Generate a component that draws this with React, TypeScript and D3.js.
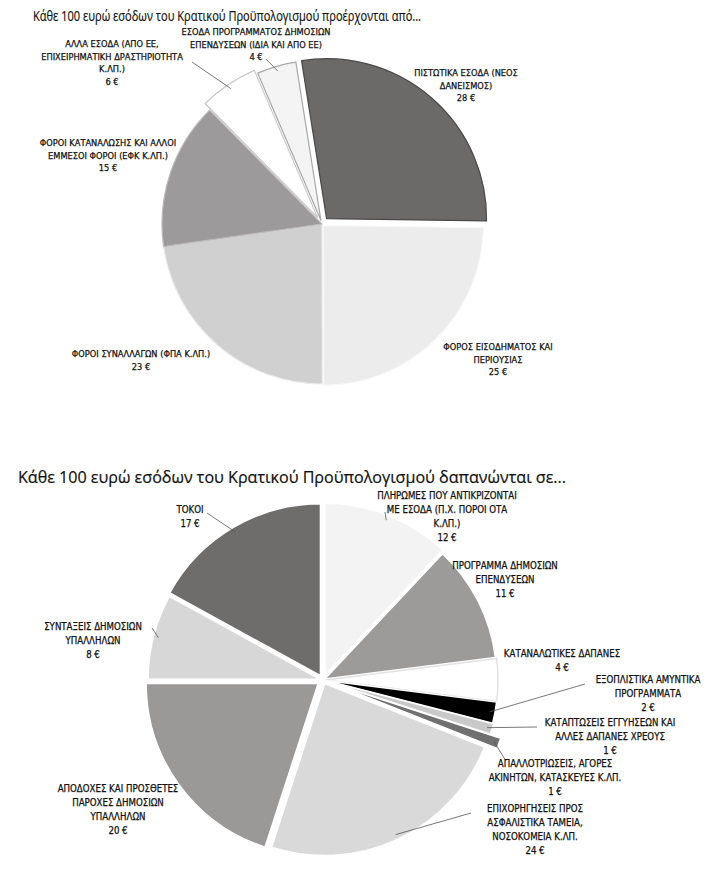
import { useEffect } from 'react';
import * as d3 from 'd3';

const W = 719;
const H = 883;

// Πάνω πίτα: έσοδα
const INCOME_TITLE = 'Κάθε 100 ευρώ εσόδων του Κρατικού Προϋπολογισμού προέρχονται από...';
const INCOME_NAMES = [
  ['ΠΙΣΤΩΤΙΚΑ ΕΣΟΔΑ (ΝΕΟΣ', 'ΔΑΝΕΙΣΜΟΣ)'],
  ['ΦΟΡΟΣ ΕΙΣΟΔΗΜΑΤΟΣ ΚΑΙ', 'ΠΕΡΙΟΥΣΙΑΣ'],
  ['ΦΟΡΟΙ ΣΥΝΑΛΛΑΓΩΝ (ΦΠΑ Κ.ΛΠ.)'],
  ['ΦΟΡΟΙ ΚΑΤΑΝΑΛΩΣΗΣ ΚΑΙ ΑΛΛΟΙ', 'ΕΜΜΕΣΟΙ ΦΟΡΟΙ (ΕΦΚ Κ.ΛΠ.)'],
  ['ΑΛΛΑ ΕΣΟΔΑ (ΑΠΟ ΕΕ,', 'ΕΠΙΧΕΙΡΗΜΑΤΙΚΗ ΔΡΑΣΤΗΡΙΟΤΗΤΑ', 'Κ.ΛΠ.)'],
  ['ΕΣΟΔΑ ΠΡΟΓΡΑΜΜΑΤΟΣ ΔΗΜΟΣΙΩΝ', 'ΕΠΕΝΔΥΣΕΩΝ (ΙΔΙΑ ΚΑΙ ΑΠΟ ΕΕ)'],
];
const INCOME_VALUES = [28, 25, 23, 15, 6, 4];

// Κάτω πίτα: δαπάνες
const EXPENSE_TITLE = 'Κάθε 100 ευρώ εσόδων του Κρατικού Προϋπολογισμού δαπανώνται σε...';
const EXPENSE_NAMES = [
  ['ΠΛΗΡΩΜΕΣ ΠΟΥ ΑΝΤΙΚΡΙΖΟΝΤΑΙ', 'ΜΕ ΕΣΟΔΑ (Π.Χ. ΠΟΡΟΙ ΟΤΑ', 'Κ.ΛΠ.)'],
  ['ΠΡΟΓΡΑΜΜΑ ΔΗΜΟΣΙΩΝ', 'ΕΠΕΝΔΥΣΕΩΝ'],
  ['ΚΑΤΑΝΑΛΩΤΙΚΕΣ ΔΑΠΑΝΕΣ'],
  ['ΕΞΟΠΛΙΣΤΙΚΑ ΑΜΥΝΤΙΚΑ', 'ΠΡΟΓΡΑΜΜΑΤΑ'],
  ['ΚΑΤΑΠΤΩΣΕΙΣ ΕΓΓΥΗΣΕΩΝ ΚΑΙ', 'ΑΛΛΕΣ ΔΑΠΑΝΕΣ ΧΡΕΟΥΣ'],
  ['ΑΠΑΛΛΟΤΡΙΩΣΕΙΣ, ΑΓΟΡΕΣ', 'ΑΚΙΝΗΤΩΝ, ΚΑΤΑΣΚΕΥΕΣ Κ.ΛΠ.'],
  ['ΕΠΙΧΟΡΗΓΗΣΕΙΣ ΠΡΟΣ', 'ΑΣΦΑΛΙΣΤΙΚΑ ΤΑΜΕΙΑ,', 'ΝΟΣΟΚΟΜΕΙΑ Κ.ΛΠ.'],
  ['ΑΠΟΔΟΧΕΣ ΚΑΙ ΠΡΟΣΘΕΤΕΣ', 'ΠΑΡΟΧΕΣ ΔΗΜΟΣΙΩΝ', 'ΥΠΑΛΛΗΛΩΝ'],
  ['ΣΥΝΤΑΞΕΙΣ ΔΗΜΟΣΙΩΝ', 'ΥΠΑΛΛΗΛΩΝ'],
  ['ΤΟΚΟΙ'],
];
const EXPENSE_VALUES = [12, 11, 4, 2, 1, 1, 24, 20, 8, 17];

// εμφάνιση
const INCOME_COLORS = ['#6c6969', '#ececec', '#d1d0d0', '#9c9a9a', '#ffffff', '#f4f4f4'];
const INCOME_STROKES = ['#4a4848', '#f9f9f9', '#ececec', '#bdbbbb', '#c8c8c8', '#a9a9a9'];
const INCOME_EXPLODE = [7, 2, 0, 0, 8, 4];
const INCOME_LABEL_POS = [[466, 76], [498, 350], [141, 357], [108, 146], [112, 47], [256, 35]];
const INCOME_LEADER_FROM: (number[] | null)[] = [null, null, null, null, [192, 62], [266, 59]];

const EXPENSE_COLORS = ['#f3f3f3', '#9d9a9a', '#ffffff', '#000000', '#c9c9c9', '#707070', '#d9d9d9', '#9b9898', '#d7d7d7', '#6f6c6c'];
const EXPENSE_STROKES = ['#ffffff', '#ffffff', '#e2e2e2', '#ffffff', '#ffffff', '#ffffff', '#ffffff', '#ffffff', '#ffffff', '#ffffff'];
const EXPENSE_EXPLODE = [5, 2, 3, 3, 4, 15, 4, 6, 3, 5];
const EXPENSE_LABEL_POS = [[447, 499], [505, 569], [562, 657], [648, 683], [610, 726], [555, 767], [535, 812], [118, 792], [93, 630], [190, 513]];
const EXPENSE_LEADER_FROM: (number[] | null)[] = [[385, 512], null, null, [585, 684], [537, 727], [506, 761], [471, 813], null, [152, 628], [207, 513]];

const LABEL_FONT = '"Liberation Sans Narrow", "DejaVu Sans Condensed", "Open Sans", sans-serif';
const TITLE_FONT = '"Open Sans", "Noto Sans", sans-serif';

type PieProps = {
  cx: number;
  cy: number;
  radius: number;
  startDeg: number;
  names: string[][];
  values: number[];
  colors: string[];
  strokes: string[];
  strokeWidth: number;
  explode: number[];
  labelPos: number[][];
  leaderFrom: (number[] | null)[];
  fontSize: number;
  lineHeight: number;
};

const Pie = (p: PieProps) => {
  const start = (p.startDeg * Math.PI) / 180;
  const pie = d3.pie<number>().sort(null).startAngle(start).endAngle(start + 2 * Math.PI);
  const arcs = pie(p.values);
  const arc = d3.arc<d3.PieArcDatum<number>>().innerRadius(0).outerRadius(p.radius);

  return (
    <g>
      {arcs.map((a, i) => {
        const mid = (a.startAngle + a.endAngle) / 2;
        const dx = Math.sin(mid) * p.explode[i];
        const dy = -Math.cos(mid) * p.explode[i];
        return (
          <path
            key={i}
            d={arc(a) || ''}
            transform={`translate(${p.cx + dx},${p.cy + dy})`}
            fill={p.colors[i]}
            stroke={p.strokes[i]}
            strokeWidth={p.strokeWidth}
            strokeLinejoin="round"
          />
        );
      })}
      {arcs.map((a, i) => {
        const from = p.leaderFrom[i];
        if (!from) return null;
        const mid = (a.startAngle + a.endAngle) / 2;
        const rr = p.radius * 0.97 + p.explode[i];
        const tx = p.cx + Math.sin(mid) * rr;
        const ty = p.cy - Math.cos(mid) * rr;
        return <line key={'l' + i} x1={from[0]} y1={from[1]} x2={tx} y2={ty} stroke="#555" strokeWidth={0.8} />;
      })}
      {arcs.map((a, i) => {
        const [x, y] = p.labelPos[i];
        const lines = [...p.names[i], `${p.values[i]} €`];
        return (
          <text
            key={'t' + i}
            x={x}
            y={y}
            textAnchor="middle"
            fontFamily={LABEL_FONT}
            fontSize={p.fontSize}
            fill="#111"
            stroke="#111"
            strokeWidth={0.25}
          >
            {lines.map((s, j) => (
              <tspan key={j} x={x} dy={j === 0 ? 0 : p.lineHeight}>
                {s}
              </tspan>
            ))}
          </text>
        );
      })}
    </g>
  );
};

export default function App() {
  useEffect(() => {
    document.body.style.margin = '0';
  }, []);

  return (
    <svg width={W} height={H} style={{ display: 'block', background: '#fff' }}>
      <text x={33} y={21} fontFamily={TITLE_FONT} fontSize={14.5} fill="#111" stroke="#111" strokeWidth={0.2} textLength={388} lengthAdjust="spacingAndGlyphs">
        {INCOME_TITLE}
      </text>
      <Pie
        cx={322}
        cy={224}
        radius={160}
        startDeg={-9}
        names={INCOME_NAMES}
        values={INCOME_VALUES}
        colors={INCOME_COLORS}
        strokes={INCOME_STROKES}
        strokeWidth={1.2}
        explode={INCOME_EXPLODE}
        labelPos={INCOME_LABEL_POS}
        leaderFrom={INCOME_LEADER_FROM}
        fontSize={9.2}
        lineHeight={12.5}
      />
      <text x={18} y={483} fontFamily={TITLE_FONT} fontSize={16} fill="#111" stroke="#111" strokeWidth={0.2} textLength={548} lengthAdjust="spacingAndGlyphs">
        {EXPENSE_TITLE}
      </text>
      <Pie
        cx={323}
        cy={680}
        radius={172}
        startDeg={0}
        names={EXPENSE_NAMES}
        values={EXPENSE_VALUES}
        colors={EXPENSE_COLORS}
        strokes={EXPENSE_STROKES}
        strokeWidth={1.5}
        explode={EXPENSE_EXPLODE}
        labelPos={EXPENSE_LABEL_POS}
        leaderFrom={EXPENSE_LEADER_FROM}
        fontSize={9.6}
        lineHeight={14}
      />
    </svg>
  );
}
